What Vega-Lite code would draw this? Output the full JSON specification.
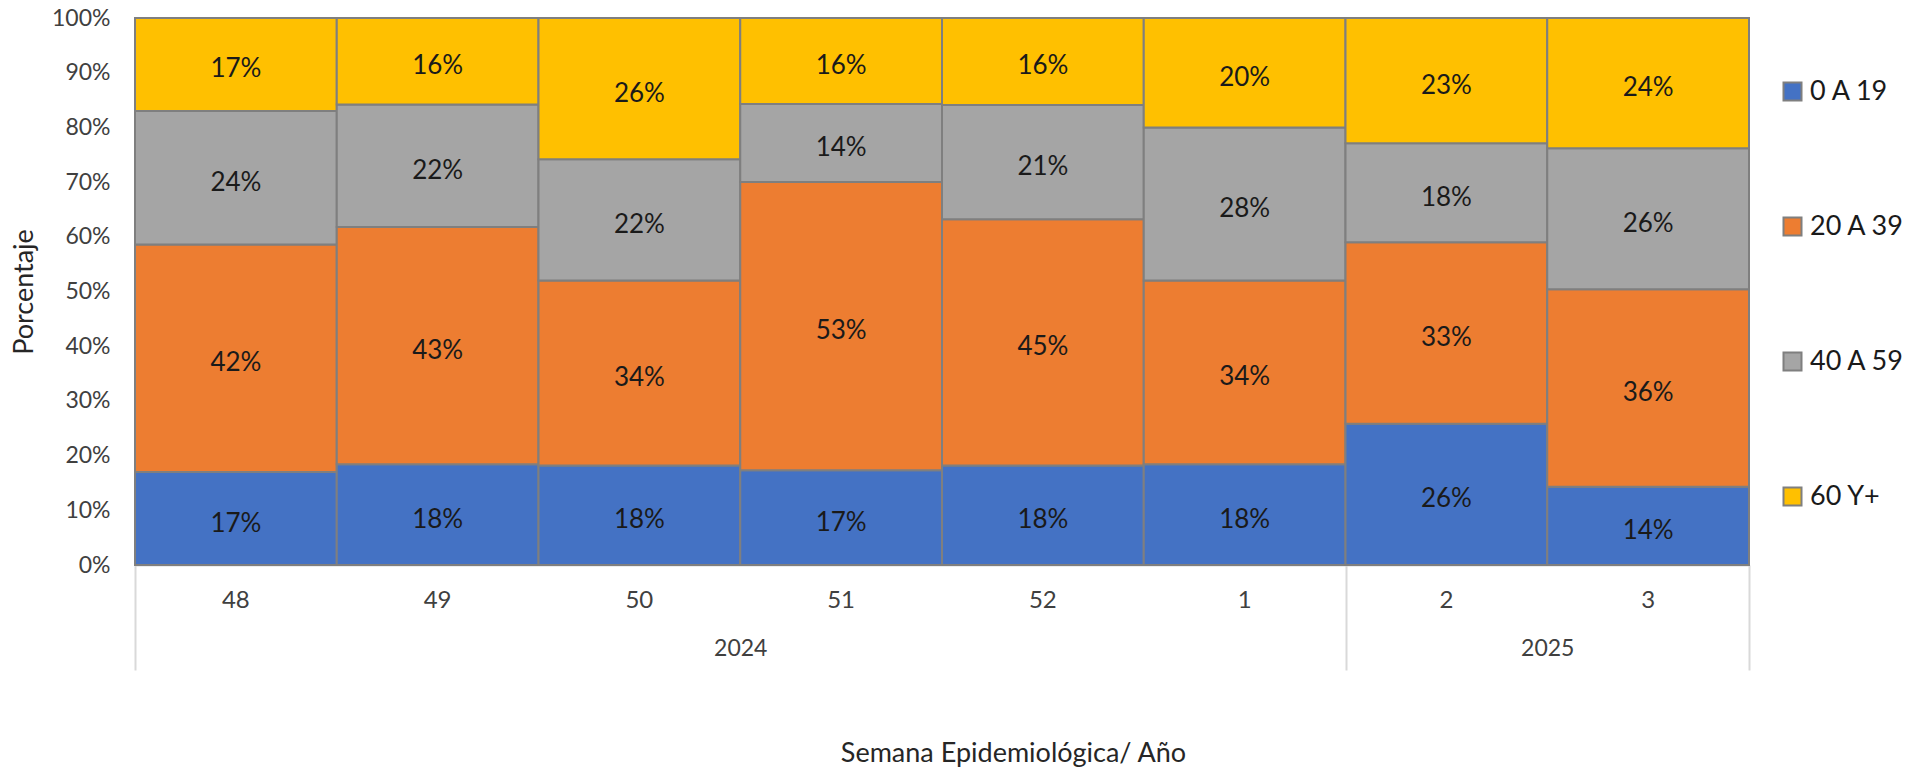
{
  "$schema": "https://vega.github.io/schema/vega-lite/v6.json",
  "autosize": "none",
  "width": 1614,
  "height": 547,
  "padding": {"left": 135, "top": 18, "right": 174, "bottom": 207},
  "background": "white",
  "config": {"view": {"stroke": null}, "font": "Lato"},
  "layer": [
    {
      "data": {
        "values": [
          {"semana": "48", "anio": "2024", "grupo": "0 A 19", "pct": 0.170},
          {"semana": "48", "anio": "2024", "grupo": "20 A 39", "pct": 0.416},
          {"semana": "48", "anio": "2024", "grupo": "40 A 59", "pct": 0.244},
          {"semana": "48", "anio": "2024", "grupo": "60 Y+", "pct": 0.170},
          {"semana": "49", "anio": "2024", "grupo": "0 A 19", "pct": 0.184},
          {"semana": "49", "anio": "2024", "grupo": "20 A 39", "pct": 0.434},
          {"semana": "49", "anio": "2024", "grupo": "40 A 59", "pct": 0.224},
          {"semana": "49", "anio": "2024", "grupo": "60 Y+", "pct": 0.158},
          {"semana": "50", "anio": "2024", "grupo": "0 A 19", "pct": 0.182},
          {"semana": "50", "anio": "2024", "grupo": "20 A 39", "pct": 0.338},
          {"semana": "50", "anio": "2024", "grupo": "40 A 59", "pct": 0.222},
          {"semana": "50", "anio": "2024", "grupo": "60 Y+", "pct": 0.258},
          {"semana": "51", "anio": "2024", "grupo": "0 A 19", "pct": 0.173},
          {"semana": "51", "anio": "2024", "grupo": "20 A 39", "pct": 0.527},
          {"semana": "51", "anio": "2024", "grupo": "40 A 59", "pct": 0.143},
          {"semana": "51", "anio": "2024", "grupo": "60 Y+", "pct": 0.157},
          {"semana": "52", "anio": "2024", "grupo": "0 A 19", "pct": 0.182},
          {"semana": "52", "anio": "2024", "grupo": "20 A 39", "pct": 0.450},
          {"semana": "52", "anio": "2024", "grupo": "40 A 59", "pct": 0.209},
          {"semana": "52", "anio": "2024", "grupo": "60 Y+", "pct": 0.159},
          {"semana": "1", "anio": "2024", "grupo": "0 A 19", "pct": 0.184},
          {"semana": "1", "anio": "2024", "grupo": "20 A 39", "pct": 0.336},
          {"semana": "1", "anio": "2024", "grupo": "40 A 59", "pct": 0.280},
          {"semana": "1", "anio": "2024", "grupo": "60 Y+", "pct": 0.200},
          {"semana": "2", "anio": "2025", "grupo": "0 A 19", "pct": 0.258},
          {"semana": "2", "anio": "2025", "grupo": "20 A 39", "pct": 0.332},
          {"semana": "2", "anio": "2025", "grupo": "40 A 59", "pct": 0.181},
          {"semana": "2", "anio": "2025", "grupo": "60 Y+", "pct": 0.229},
          {"semana": "3", "anio": "2025", "grupo": "0 A 19", "pct": 0.143},
          {"semana": "3", "anio": "2025", "grupo": "20 A 39", "pct": 0.361},
          {"semana": "3", "anio": "2025", "grupo": "40 A 59", "pct": 0.258},
          {"semana": "3", "anio": "2025", "grupo": "60 Y+", "pct": 0.238}
        ]
      },
      "transform": [
        {"stack": "pct", "groupby": ["semana"], "sort": [{"field": "grupo", "order": "ascending"}], "as": ["v0", "v1"]},
        {"calculate": "(datum.v0 + datum.v1) / 2", "as": "mid"}
      ],
      "encoding": {
        "x": {
          "field": "semana", "type": "nominal",
          "sort": ["48", "49", "50", "51", "52", "1", "2", "3"],
          "scale": {"paddingInner": 0, "paddingOuter": 0},
          "axis": {
            "title": null, "labelAngle": 0, "labelFont": "Lato", "labelFontSize": 24,
            "labelColor": "#404040", "labelPadding": 23, "ticks": false, "tickSize": 0,
            "domainColor": "#d9d9d9", "domainWidth": 2
          }
        }
      },
      "layer": [
        {
          "mark": {"type": "bar", "stroke": "#7f7f7f", "strokeWidth": 2},
          "encoding": {
            "y": {
              "field": "v0", "type": "quantitative",
              "scale": {"domain": [0, 1], "nice": false},
              "axis": {
                "title": "Porcentaje", "format": ".0%",
                "values": [0, 0.1, 0.2, 0.3, 0.4, 0.5, 0.6, 0.7, 0.8, 0.9, 1],
                "labelFont": "Lato", "labelFontSize": 23, "labelColor": "#404040", "labelPadding": 25,
                "domain": false, "ticks": false, "grid": false,
                "titleFont": "Lato", "titleFontSize": 27, "titleFontWeight": "normal",
                "titleColor": "#262626", "titlePadding": 13
              }
            },
            "y2": {"field": "v1"},
            "color": {
              "field": "grupo", "type": "nominal",
              "scale": {
                "domain": ["0 A 19", "20 A 39", "40 A 59", "60 Y+"],
                "range": ["#4472C4", "#ED7D31", "#A5A5A5", "#FFC000"]
              },
              "legend": {
                "orient": "none", "legendX": 1644, "legendY": 60, "title": null,
                "labelFont": "Lato", "labelFontSize": 27, "labelColor": "#1a1a1a",
                "symbolType": "square", "symbolSize": 324, "symbolStrokeColor": "#7f7f7f",
                "symbolStrokeWidth": 2, "rowPadding": 107, "labelOffset": 4
              }
            }
          }
        },
        {
          "mark": {"type": "text", "font": "Lato", "fontSize": 26, "color": "#1a1a1a", "baseline": "middle", "align": "center", "dy": 5},
          "encoding": {
            "y": {"field": "mid", "type": "quantitative", "title": "Porcentaje"},
            "text": {"field": "pct", "type": "quantitative", "format": ".0%"}
          }
        }
      ]
    },
    {
      "data": {
        "values": [
          {"anio": "2024", "ini": 0, "fin": 6},
          {"anio": "2025", "ini": 6, "fin": 8}
        ]
      },
      "mark": {"type": "rect", "opacity": 0},
      "encoding": {
        "x": {
          "field": "ini", "type": "quantitative",
          "scale": {"domain": [0, 8], "nice": false, "zero": false},
          "axis": {
            "orient": "bottom", "values": [0, 3, 6, 7, 8],
            "labelExpr": "datum.value == 3 ? '2024' : datum.value == 7 ? '2025' : ''",
            "tickSize": 105, "tickColor": "#d9d9d9", "tickWidth": 2,
            "tickOpacity": {"condition": {"test": "datum.value == 3 || datum.value == 7", "value": 0}, "value": 1},
            "domain": false, "grid": false, "labelPadding": -33, "labelFlush": false, "labelOverlap": false,
            "labelFont": "Lato", "labelFontSize": 23, "labelColor": "#404040",
            "title": "Semana Epidemiológica/ Año", "titleFont": "Lato", "titleFontSize": 27,
            "titleFontWeight": "normal", "titleColor": "#262626", "titlePadding": 69, "titleX": 878
          }
        },
        "x2": {"field": "fin"}
      }
    }
  ],
  "resolve": {"scale": {"x": "independent"}, "axis": {"x": "independent"}}
}
